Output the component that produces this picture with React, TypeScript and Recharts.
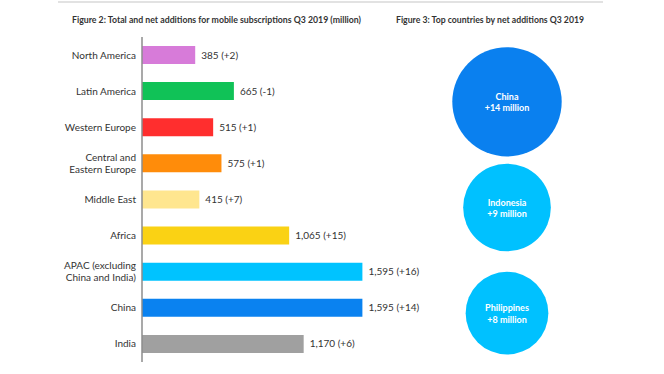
import { BarChart, Bar, XAxis, YAxis, Cell, LabelList, ScatterChart, Scatter, ZAxis } from 'recharts'

const regions = [
    'North America',
    'Latin America',
    'Western Europe',
    'Central and\nEastern Europe',
    'Middle East',
    'Africa',
    'APAC (excluding\nChina and India)',
    'China',
    'India',
]
const totals = [385, 665, 515, 575, 415, 1065, 1595, 1595, 1170]
const netAdds = [2, -1, 1, 1, 7, 15, 16, 14, 6]
const regionColors = ['#d77bd9', '#10c257', '#ff2e2e', '#ff8c0a', '#ffe68f', '#fad214', '#00c3ff', '#0a82f0', '#a0a0a0']

const countries = ['China', 'Indonesia', 'Philippines']
const countryNetAdds = [14, 9, 8]
const countryColors = ['#0a80ef', '#00c1ff', '#00c1ff']

const FONT = 'Lato, "Noto Sans", sans-serif'
const TEXT = '#333333'

const barData = regions.map((region, i) => ({
    region,
    total: totals[i],
    label: `${totals[i].toLocaleString('en-US')} (${netAdds[i] > 0 ? '+' : ''}${netAdds[i]})`,
}))

const bubbleData = countries.map((country, i) => ({
    figure: 'Q3 2019',
    country,
    net: countryNetAdds[i],
}))

const RegionTick = (props: any) => {
    const { x, y, payload } = props
    const lines = String(payload.value).split('\n')
    const lh = 11.7
    return (
        <text x={x} y={y} textAnchor="end" fill={TEXT} fontSize={10} fontFamily={FONT}>
            {lines.map((line, i) => (
                <tspan key={i} x={x} dy={i === 0 ? -((lines.length - 1) * lh) / 2 + 3.5 : lh}>
                    {line}
                </tspan>
            ))}
        </text>
    )
}

const Bubble = (props: any) => {
    const { cx, cy, size, payload, fill } = props
    const r = Math.sqrt(size / Math.PI)
    return (
        <g>
            <circle cx={cx} cy={cy} r={r} fill={fill} />
            <text x={cx} y={cy - 2} textAnchor="middle" fill="#fff" fontSize={9} fontWeight={700} fontFamily={FONT}>
                {payload.country}
            </text>
            <text x={cx} y={cy + 9.5} textAnchor="middle" fill="#fff" fontSize={9} fontWeight={700} fontFamily={FONT}>
                {`+${payload.net} million`}
            </text>
        </g>
    )
}

export default function App() {
    return (
        <div style={{ position: 'absolute', left: 0, top: 0, width: 664, height: 374, background: '#fff', fontFamily: FONT }}>
            <svg width={664} height={374} style={{ position: 'absolute', left: 0, top: 0 }}>
                <line x1={58} x2={603} y1={2} y2={2} stroke="#e2e2e2" strokeWidth={2} />
                <text x={72} y={23} fontSize={10} fontWeight={700} fill={TEXT} fontFamily={FONT} textLength={289} lengthAdjust="spacingAndGlyphs">
                    Figure 2: Total and net additions for mobile subscriptions Q3 2019 (million)
                </text>
                <text x={396} y={23} fontSize={10} fontWeight={700} fill={TEXT} fontFamily={FONT} textLength={188} lengthAdjust="spacingAndGlyphs">
                    Figure 3: Top countries by net additions Q3 2019
                </text>
            </svg>

            <div style={{ position: 'absolute', left: 0, top: 0 }}>
                <BarChart
                    width={446}
                    height={374}
                    layout="vertical"
                    data={barData}
                    margin={{ top: 37, right: 0, bottom: 12, left: 0 }}
                >
                    <XAxis type="number" hide domain={[0, 2200]} />
                    <YAxis
                        dataKey="region"
                        type="category"
                        width={142}
                        axisLine={{ stroke: '#8c8c8c', strokeWidth: 1.5 }}
                        tickLine={false}
                        tickSize={6}
                        tickMargin={0}
                        tick={<RegionTick />}
                        interval={0}
                    />
                    <Bar dataKey="total" barSize={18} isAnimationActive={false}>
                        {barData.map((d, i) => (
                            <Cell key={`cell-${i}`} fill={regionColors[i]} />
                        ))}
                        <LabelList dataKey="label" position="right" offset={6} fill={TEXT} fontSize={10} fontFamily={FONT} />
                    </Bar>
                </BarChart>
            </div>

            <div style={{ position: 'absolute', left: 392, top: 0 }}>
                <ScatterChart width={230} height={374} margin={{ top: 49, right: 0, bottom: 8, left: 0 }}>
                    <XAxis dataKey="figure" type="category" allowDuplicatedCategory={false} hide />
                    <YAxis dataKey="country" type="category" allowDuplicatedCategory={false} hide reversed />
                    <ZAxis dataKey="net" type="number" domain={[0, 14]} range={[0, 9400]} />
                    <Scatter data={bubbleData} shape={<Bubble />} isAnimationActive={false}>
                        {bubbleData.map((d, i) => (
                            <Cell key={`bubble-${i}`} fill={countryColors[i]} />
                        ))}
                    </Scatter>
                </ScatterChart>
            </div>
        </div>
    )
}
